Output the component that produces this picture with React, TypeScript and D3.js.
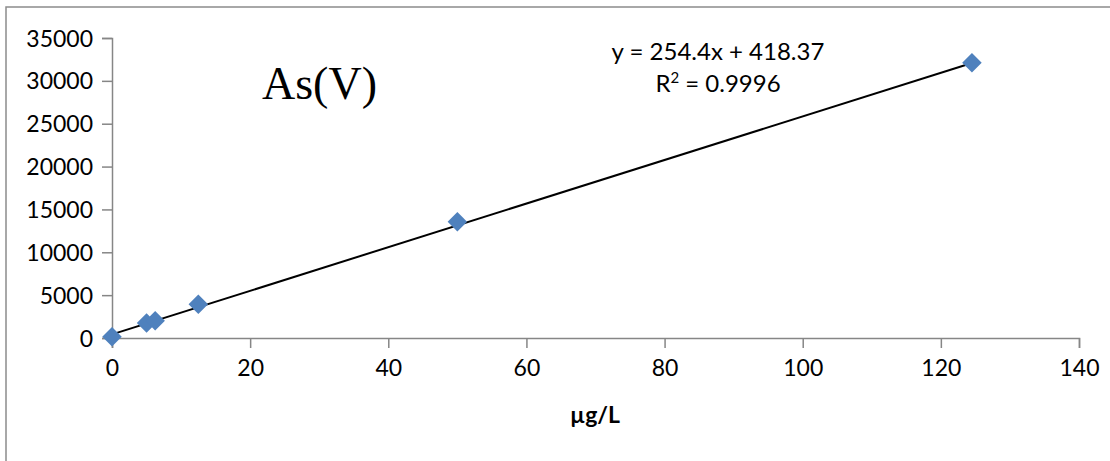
import React, { useEffect, useRef } from "react";
import * as d3 from "d3";

// calibration standards, µg/L vs. signal
const concentrations = [0, 5, 6.25, 12.5, 50, 124.5];
const signals = [150, 1750, 2020, 3930, 13570, 32100];

const xTicks = [0, 20, 40, 60, 80, 100, 120, 140];
const yTicks = [0, 5000, 10000, 15000, 20000, 25000, 30000, 35000];

const slope = 254.4;
const intercept = 418.37;

const W = 1110;
const H = 461;
const margin = { left: 112, right: 31, top: 38, bottom: 123 };

export default function App() {
  const ref = useRef<SVGSVGElement>(null);

  useEffect(() => {
    const svg = d3.select(ref.current);
    svg.selectAll("*").remove();

    const x = d3.scaleLinear().domain([0, 140]).range([margin.left, W - margin.right]);
    const y = d3.scaleLinear().domain([0, 35000]).range([H - margin.bottom, margin.top]);

    const font = "Lato, 'Open Sans', sans-serif";
    const axisColor = "#868686";

    // outer chart border (runs off right/bottom)
    svg.append("rect")
      .attr("x", 6).attr("y", 7)
      .attr("width", W + 20).attr("height", H + 20)
      .attr("fill", "white")
      .attr("stroke", "#8c8c8c").attr("stroke-width", 1.5);

    const yAxis = svg.append("g")
      .attr("transform", `translate(${margin.left},0)`)
      .call(d3.axisLeft(y).tickValues(yTicks).tickSize(10).tickPadding(9).tickFormat(d3.format("d")));

    const xAxis = svg.append("g")
      .attr("transform", `translate(0,${H - margin.bottom})`)
      .call(d3.axisBottom(x).tickValues(xTicks).tickSize(10).tickPadding(10));

    [yAxis, xAxis].forEach((g) => {
      g.selectAll("path.domain").attr("stroke", axisColor).attr("stroke-width", 1.5);
      g.selectAll(".tick line").attr("stroke", axisColor).attr("stroke-width", 1.5);
      g.selectAll(".tick text")
        .attr("fill", "#000")
        .style("font-family", font)
        .style("font-size", "23px");
    });
    yAxis.selectAll(".tick text").attr("dy", "0.35em");
    xAxis.selectAll(".tick text").attr("dy", "0.8em");

    // linear trendline
    const xMin = d3.min(concentrations) as number;
    const xMax = d3.max(concentrations) as number;
    const line = d3.line<number>()
      .x((d) => x(d))
      .y((d) => y(slope * d + intercept));
    svg.append("path")
      .datum([xMin, xMax])
      .attr("d", line)
      .attr("fill", "none")
      .attr("stroke", "#000")
      .attr("stroke-width", 2);

    // diamond markers
    const diamond = d3.symbol().type(d3.symbolSquare).size(190);
    svg.append("g")
      .selectAll("path")
      .data(concentrations.map((c, i) => [c, signals[i]]))
      .join("path")
      .attr("d", diamond)
      .attr("transform", (d) => `translate(${x(d[0])},${y(d[1])}) rotate(45)`)
      .attr("fill", "#4F81BD");

    // chart title
    svg.append("text")
      .attr("x", 262).attr("y", 99)
      .style("font-family", "'Liberation Serif', 'Times New Roman', serif")
      .style("font-size", "46px")
      .text("As(V)");

    // equation label
    const eq = svg.append("g").style("font-family", font).style("font-size", "24px");
    eq.append("text").attr("x", 718).attr("y", 60).attr("text-anchor", "middle")
      .text(`y = ${slope}x + ${intercept}`);
    const r2 = eq.append("text").attr("x", 718).attr("y", 92).attr("text-anchor", "middle");
    r2.append("tspan").text("R");
    r2.append("tspan").attr("dy", -9).style("font-size", "15px").text("2");
    r2.append("tspan").attr("dy", 9).text(" = 0.9996");

    // x axis title
    svg.append("text")
      .attr("x", 595).attr("y", 423).attr("text-anchor", "middle")
      .style("font-family", font)
      .style("font-size", "23px")
      .style("font-weight", "bold")
      .text("µg/L");
  }, []);

  return (
    <svg
      ref={ref}
      width={W}
      height={H}
      style={{ position: "absolute", left: 0, top: 0, background: "white" }}
    />
  );
}
